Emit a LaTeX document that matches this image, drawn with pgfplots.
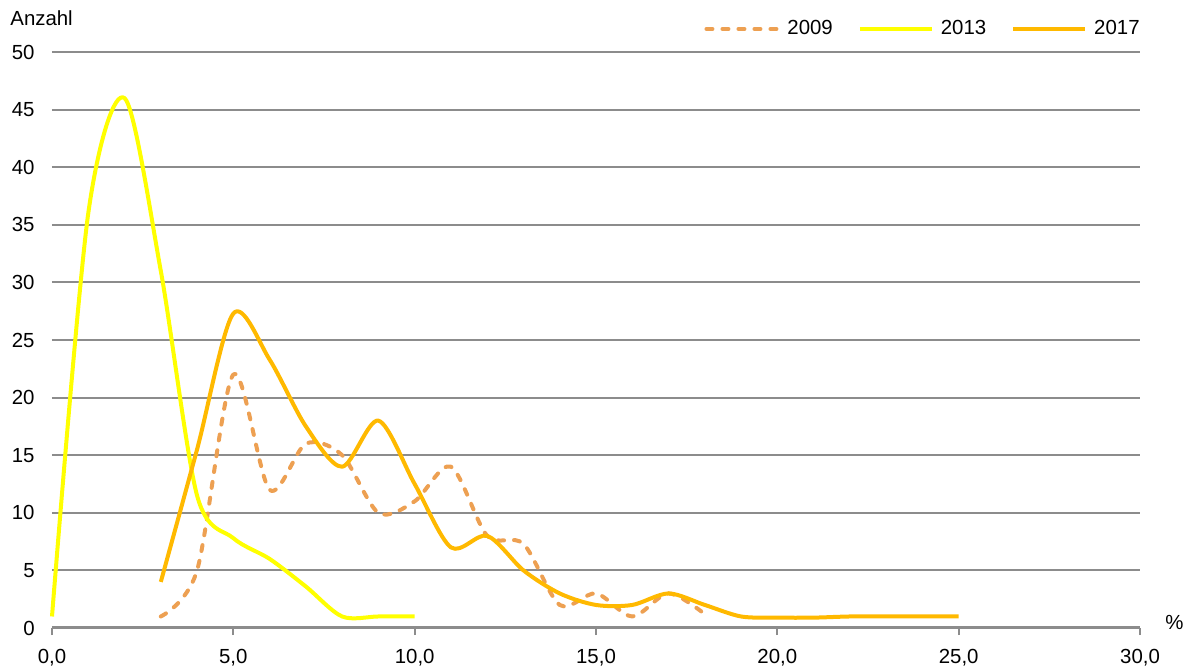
\documentclass[border=0pt]{standalone}
\usepackage{pgfplots}
\pgfplotsset{compat=1.18}
\usepackage{fontspec}
\setmainfont{Liberation Sans}
\definecolor{cA}{HTML}{EDA052}
\definecolor{cB}{HTML}{FFFF00}
\definecolor{cC}{HTML}{FFB900}
\definecolor{gridc}{HTML}{8C8C8C}
\begin{document}
\fontsize{10.2}{12}\selectfont
\begin{tikzpicture}
\begin{axis}[
  at={(0,0)}, anchor=south west,
  scale only axis, width=544pt, height=288pt,
  xmin=0, xmax=30, ymin=0, ymax=50,
  xtick={0,5,...,30}, ytick={0,5,...,50},
  axis x line*=bottom, axis y line*=left,
  x axis line style={gridc, line width=1.5pt, -},
  y axis line style={draw=none, -},
  x tick style={gridc, line width=1pt},
  y tick style={draw=none},
  tick align=outside, major tick length=3.5pt,
  ymajorgrids, grid style={gridc, line width=1pt},
  /pgf/number format/assume math mode=true,
  xticklabel={\pgfmathprintnumber[fixed, fixed zerofill, precision=1, use comma]{\tick}},
  yticklabel={\pgfmathprintnumber{\tick}},
  xticklabel style={anchor=north, inner sep=0pt, yshift=-7pt},
  yticklabel style={anchor=east, inner sep=0pt, xshift=-5pt},
  clip=false,
  legend columns=3,
  legend style={draw=none, fill=none, at={(rel axis cs:1,1)}, anchor=south east, yshift=7pt, inner sep=0pt,
    /tikz/every even column/.append style={column sep=12.5pt},
    /tikz/every odd column/.append style={column sep=3.5pt},
    nodes={inner sep=0pt}},
  legend image code/.code={\draw[#1] (0pt,0pt) -- (36pt,0pt);},
  every axis plot/.append style={line width=2pt, smooth, tension=0.5, no markers, line join=round},
]
\addplot[cA, dash pattern=on 3pt off 5pt, line cap=round] coordinates {
 (3,1) (4,5) (5,22) (6,12) (7,16) (8,15) (9,10) (10,11) (11,14) (12,8) (13,7.3) (14,2) (15,3) (16,1) (17,3) (18,1.2)};
\addlegendentry{2009}
\addplot[cB] coordinates {
 (0,1) (1,36) (2,46) (3,31) (4,11.5) (5,7.8) (6,6) (7,3.6) (8,1) (9,1) (10,1)};
\addlegendentry{2013}
\addplot[cC] coordinates {
 (3,4) (4,15.5) (5,27.3) (6,23.3) (7,17.5) (8,14) (9,18) (10,12.5) (11,7) (12,8) (13,5) (14,3) (15,2) (16,2) (17,3) (18,2) (19,1) (20,0.9) (21,0.9) (22,1) (23,1) (24,1) (25,1)};
\addlegendentry{2017}
\node[anchor=west, inner sep=0pt] at (rel axis cs:1,0) [xshift=12.5pt, yshift=3pt] {\%};
\node[anchor=west, inner sep=0pt] at (rel axis cs:0,1) [xshift=-21pt, yshift=17pt] {Anzahl};
\end{axis}
\path[use as bounding box] (-26pt,-20pt) rectangle (570pt,314pt);
\end{tikzpicture}
\end{document}
